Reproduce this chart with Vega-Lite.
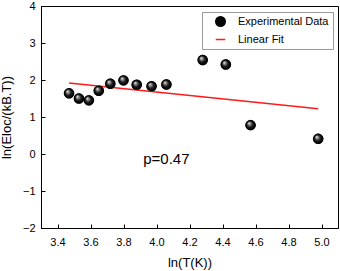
{
  "$schema": "https://vega.github.io/schema/vega-lite/v6.json",
  "width": 297,
  "height": 222,
  "autosize": "none",
  "padding": {"left": 41, "top": 6, "right": 2, "bottom": 43},
  "background": "white",
  "config": {
    "font": "Liberation Sans",
    "view": {"stroke": "black", "strokeWidth": 1}
  },
  "datasets": {
    "pts": [
      {"lnT": 3.47, "val": 1.64, "series": "Experimental Data"},
      {"lnT": 3.53, "val": 1.50, "series": "Experimental Data"},
      {"lnT": 3.59, "val": 1.45, "series": "Experimental Data"},
      {"lnT": 3.65, "val": 1.71, "series": "Experimental Data"},
      {"lnT": 3.72, "val": 1.90, "series": "Experimental Data"},
      {"lnT": 3.80, "val": 1.99, "series": "Experimental Data"},
      {"lnT": 3.88, "val": 1.87, "series": "Experimental Data"},
      {"lnT": 3.97, "val": 1.83, "series": "Experimental Data"},
      {"lnT": 4.06, "val": 1.88, "series": "Experimental Data"},
      {"lnT": 4.28, "val": 2.54, "series": "Experimental Data"},
      {"lnT": 4.42, "val": 2.42, "series": "Experimental Data"},
      {"lnT": 4.57, "val": 0.78, "series": "Experimental Data"},
      {"lnT": 4.98, "val": 0.41, "series": "Experimental Data"}
    ],
    "fit": [
      {"lnT": 3.47, "val": 1.92, "series": "Linear Fit"},
      {"lnT": 4.98, "val": 1.22, "series": "Linear Fit"}
    ],
    "note": [
      {"lnT": 4.06, "val": -0.14, "label": "p=0.47"}
    ]
  },
  "encoding": {
    "x": {
      "field": "lnT", "type": "quantitative",
      "scale": {"domain": [3.3, 5.1], "nice": false, "zero": false},
      "axis": {"values": [3.4, 3.6, 3.8, 4.0, 4.2, 4.4, 4.6, 4.8, 5.0], "format": ".1f", "grid": false,
        "domainColor": "black", "tickColor": "black", "tickWidth": 1, "tickSize": -4,
        "labelPadding": 12, "labelFontSize": 11, "labelColor": "black",
        "title": "ln(T(K))", "titleFontSize": 13, "titleFontWeight": "normal", "titleColor": "black", "titlePadding": 9}
    },
    "y": {
      "field": "val", "type": "quantitative",
      "scale": {"domain": [-2, 4], "nice": false, "zero": false},
      "axis": {"values": [-2, -1, 0, 1, 2, 3, 4], "format": "d", "grid": false,
        "domainColor": "black", "tickColor": "black", "tickWidth": 1, "tickSize": -4,
        "labelPadding": 10, "labelFontSize": 11, "labelColor": "black",
        "title": "ln(Eloc/(kB.T))", "titleFontSize": 13, "titleFontWeight": "normal", "titleColor": "black", "titlePadding": 9}
    }
  },
  "layer": [
    {
      "data": {"name": "pts"},
      "mark": {"type": "point", "filled": true, "size": 80, "strokeWidth": 1.5, "opacity": 1},
      "encoding": {
        "fill": {
          "field": "series", "type": "nominal",
          "scale": {"domain": ["Experimental Data", "Linear Fit"], "range": ["#000000", "#ff1a1a"]},
          "legend": {
            "title": null, "orient": "none", "legendX": 161, "legendY": 6, "padding": 4,
            "strokeColor": "#999999", "fillColor": "white", "symbolSize": 90, "symbolOffset": 9,
            "symbolStrokeWidth": 1.5, "labelOffset": 12, "labelFontSize": 11, "labelColor": "black", "rowPadding": 3
          }
        },
        "stroke": {
          "field": "series", "type": "nominal",
          "scale": {"domain": ["Experimental Data", "Linear Fit"], "range": ["#000000", "#ff1a1a"]},
          "legend": {
            "title": null, "orient": "none", "legendX": 161, "legendY": 6, "padding": 4,
            "strokeColor": "#999999", "fillColor": "white", "symbolSize": 90, "symbolOffset": 9,
            "symbolStrokeWidth": 1.5, "labelOffset": 12, "labelFontSize": 11, "labelColor": "black", "rowPadding": 3
          }
        },
        "shape": {
          "field": "series", "type": "nominal",
          "scale": {"domain": ["Experimental Data", "Linear Fit"], "range": ["circle", "stroke"]},
          "legend": {
            "title": null, "orient": "none", "legendX": 161, "legendY": 6, "padding": 4,
            "strokeColor": "#999999", "fillColor": "white", "symbolSize": 90, "symbolOffset": 9,
            "symbolStrokeWidth": 1.5, "labelOffset": 12, "labelFontSize": 11, "labelColor": "black", "rowPadding": 3
          }
        }
      }
    },
    {
      "data": {"name": "fit"},
      "mark": {"type": "line", "color": "#ff1a1a", "strokeWidth": 1.5}
    },
    {
      "data": {"name": "pts"},
      "mark": {"type": "circle", "size": 95, "opacity": 1, "stroke": "#000000", "strokeWidth": 0.5,
        "fill": {"gradient": "radial", "x1": 0.32, "y1": 0.28, "r1": 0, "x2": 0.5, "y2": 0.5, "r2": 0.5, "stops": [{"offset": 0, "color": "#ffffff"}, {"offset": 0.25, "color": "#999999"}, {"offset": 0.6, "color": "#1a1a1a"}, {"offset": 1, "color": "#000000"}]}}
    },
    {
      "data": {"name": "note"},
      "mark": {"type": "text", "fontSize": 15, "color": "black", "align": "center", "baseline": "middle"},
      "encoding": {"text": {"field": "label"}}
    }
  ]
}
